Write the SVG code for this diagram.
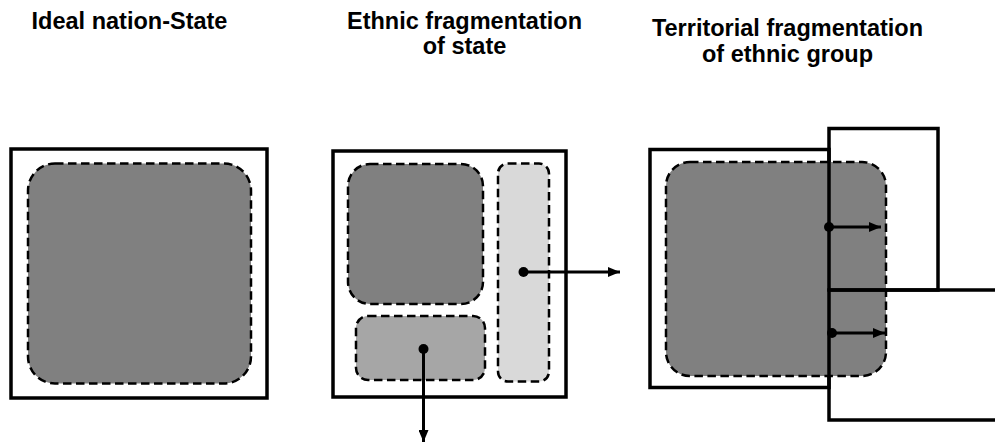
<svg xmlns="http://www.w3.org/2000/svg" width="995" height="444" viewBox="0 0 995 444">
<defs>
<marker id="ah" viewBox="0 0 12 10" refX="12" refY="5" markerWidth="12" markerHeight="10" markerUnits="userSpaceOnUse" orient="auto">
<path d="M0,0 L12,5 L0,10 Z" fill="#000"/>
</marker>
<style>
.t{font-family:"Liberation Sans",Arial,Helvetica,sans-serif;font-weight:bold;font-size:23.5px;fill:#000;text-anchor:middle}
.box{fill:#fff;stroke:#000;stroke-width:3.5}
.open{fill:none;stroke:#000;stroke-width:3.5}
.eth{stroke:#000;stroke-width:2.5;stroke-dasharray:8.5 4.5}
.arr{stroke:#000;stroke-width:3;fill:none;marker-end:url(#ah)}
.dot{fill:#000}
</style>
</defs>
<rect width="995" height="444" fill="#fff"/>
<g id="titles">
<text class="t" x="129.5" y="29">Ideal nation-State</text>
<text class="t" x="464.5" y="29">Ethnic fragmentation</text>
<text class="t" x="464.5" y="54">of state</text>
<text class="t" x="787.5" y="35.5">Territorial fragmentation</text>
<text class="t" x="787.5" y="61.5">of ethnic group</text>
</g>
<g id="ideal-state">
<rect class="box" x="11" y="149" width="256" height="249"/>
<rect class="eth" x="28" y="163.5" width="223" height="220" rx="27" fill="#808080"/>
</g>
<g id="ethnic-fragmentation">
<rect class="box" x="333" y="151" width="233" height="246"/>
<rect class="eth" x="348" y="164" width="135" height="140" rx="22" fill="#808080"/>
<rect class="eth" x="356" y="316" width="129" height="64" rx="12" fill="#a6a6a6"/>
<rect class="eth" x="498" y="163.5" width="51" height="218" rx="10" fill="#d9d9d9"/>
</g>
<g id="territorial-fragmentation">
<rect class="box" x="650" y="149.5" width="179" height="238"/>
<rect class="eth" x="666" y="162" width="220" height="214" rx="24" fill="#808080"/>
<rect class="open" x="829" y="128.5" width="109" height="161.5"/>
<rect class="open" x="829" y="290" width="200" height="130"/>
</g>
<g id="connectors">
<circle class="dot" cx="523.5" cy="272" r="5"/>
<line class="arr" x1="523.5" y1="272" x2="620" y2="272"/>
<circle class="dot" cx="423.5" cy="349" r="5"/>
<line class="arr" x1="423.5" y1="349" x2="423.5" y2="442"/>
<circle class="dot" cx="829" cy="227" r="5"/>
<line class="arr" x1="829" y1="227" x2="881" y2="227"/>
<circle class="dot" cx="832" cy="333" r="5"/>
<line class="arr" x1="832" y1="333" x2="885" y2="333"/>
</g>
</svg>
